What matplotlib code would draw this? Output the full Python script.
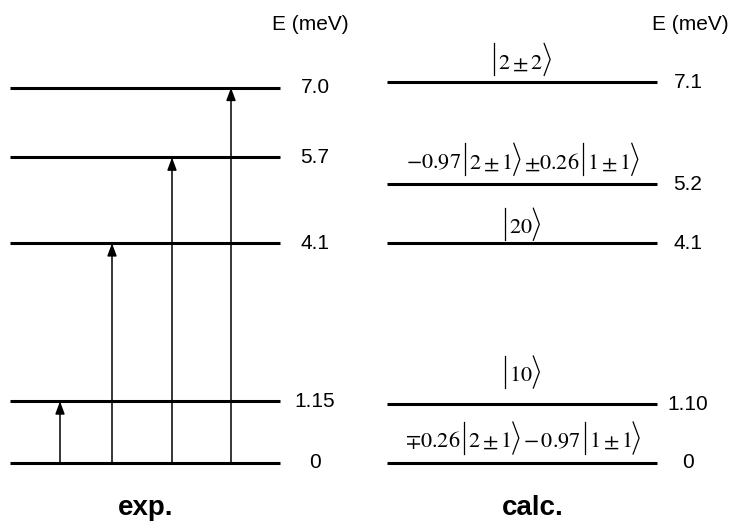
import matplotlib.pyplot as plt

# energies (meV)
exp_levels = [0, 1.15, 4.1, 5.7, 7.0]
exp_labels = ["0", "1.15", "4.1", "5.7", "7.0"]
calc_levels = [0, 1.10, 4.1, 5.2, 7.1]
calc_labels = ["0", "1.10", "4.1", "5.2", "7.1"]
# state labels as pieces: plain maths, "|" = ket start, ">" = ket end
calc_states = [
    [r"$\mp0.26$", "|", r"$2\pm1$", ">", r"$-\,0.97$", "|", r"$1\pm1$", ">"],
    ["|", r"$10$", ">"],
    ["|", r"$20$", ">"],
    [r"$-0.97$", "|", r"$2\pm1$", ">", r"$\pm0.26$", "|", r"$1\pm1$", ">"],
    ["|", r"$2\pm2$", ">"],
]
transitions = [1.15, 4.1, 5.7, 7.0]

# layout (pixels)
PX = 53.6                       # pixels per meV
arrow_x = [60, 112, 172, 231]
state_baseline = [16, 23, 10, 16, 14]   # baseline height above each level

plt.rcParams["font.family"] = ["Liberation Sans", "DejaVu Sans"]
plt.rcParams["mathtext.fontset"] = "stix"

fig = plt.figure(figsize=(7.3, 5.25), dpi=100)
ax = fig.add_axes([0, 0, 1, 1])
ax.set_xlim(0, 730)
ax.set_ylim(-62 / PX, 463 / PX)
ax.axis("off")
renderer = fig.canvas.get_renderer()

# experimental levels
for e, lab in zip(exp_levels, exp_labels):
    ax.plot([10, 280], [e, e], color="black", lw=2.2, solid_capstyle="butt")
    ax.text(315, e, lab, fontsize=15, ha="center", va="center")

for x, e in zip(arrow_x, transitions):
    ax.annotate("", xy=(x, e), xytext=(x, 0),
                arrowprops=dict(arrowstyle="-|>,head_length=0.75,head_width=0.28",
                                color="black", lw=1.1, shrinkA=0, shrinkB=0))


def draw_state(pieces, e, base_px, xc=522):
    yb = e + base_px / PX
    items = []
    total = 0
    prev = None
    for p in pieces:
        if p in ("|", ">"):
            gap = 4 if p == "|" else 1
            if prev is None:
                gap = 0
            w = 1 if p == "|" else 6
            items.append((p, None, total + gap, w))
            total += gap + w
        else:
            gap = 0 if prev is None else (3 if prev == "|" else 4)
            t = ax.text(0, yb, p, fontsize=16, ha="left", va="baseline")
            w = t.get_window_extent(renderer).width
            items.append((p, t, total + gap, w))
            total += gap + w
        prev = p
    x0 = xc - total / 2
    top = yb + 25 / PX
    bot = yb - 7 / PX
    for p, t, off, w in items:
        x = x0 + off
        if p == "|":
            ax.plot([x, x], [bot, top], color="black", lw=0.9)
        elif p == ">":
            ax.plot([x, x + w, x], [top, (top + bot) / 2, bot], color="black",
                    lw=0.9, solid_joinstyle="miter")
        else:
            t.set_x(x)


# calculated levels
for e, lab, st, b in zip(calc_levels, calc_labels, calc_states, state_baseline):
    ax.plot([387, 657], [e, e], color="black", lw=2.2, solid_capstyle="butt")
    ax.text(688, e, lab, fontsize=15, ha="center", va="center")
    draw_state(st, e, b)

ax.text(310, (463 - 24) / PX, "E (meV)", fontsize=15, ha="center", va="center")
ax.text(690, (463 - 24) / PX, "E (meV)", fontsize=15, ha="center", va="center")

ax.text(146, -45 / PX, "exp.", fontsize=20, fontweight="bold", ha="center", va="center")
ax.text(533, -45 / PX, "calc.", fontsize=20, fontweight="bold", ha="center", va="center")

fig.savefig("out.png", dpi=100, facecolor="white")
